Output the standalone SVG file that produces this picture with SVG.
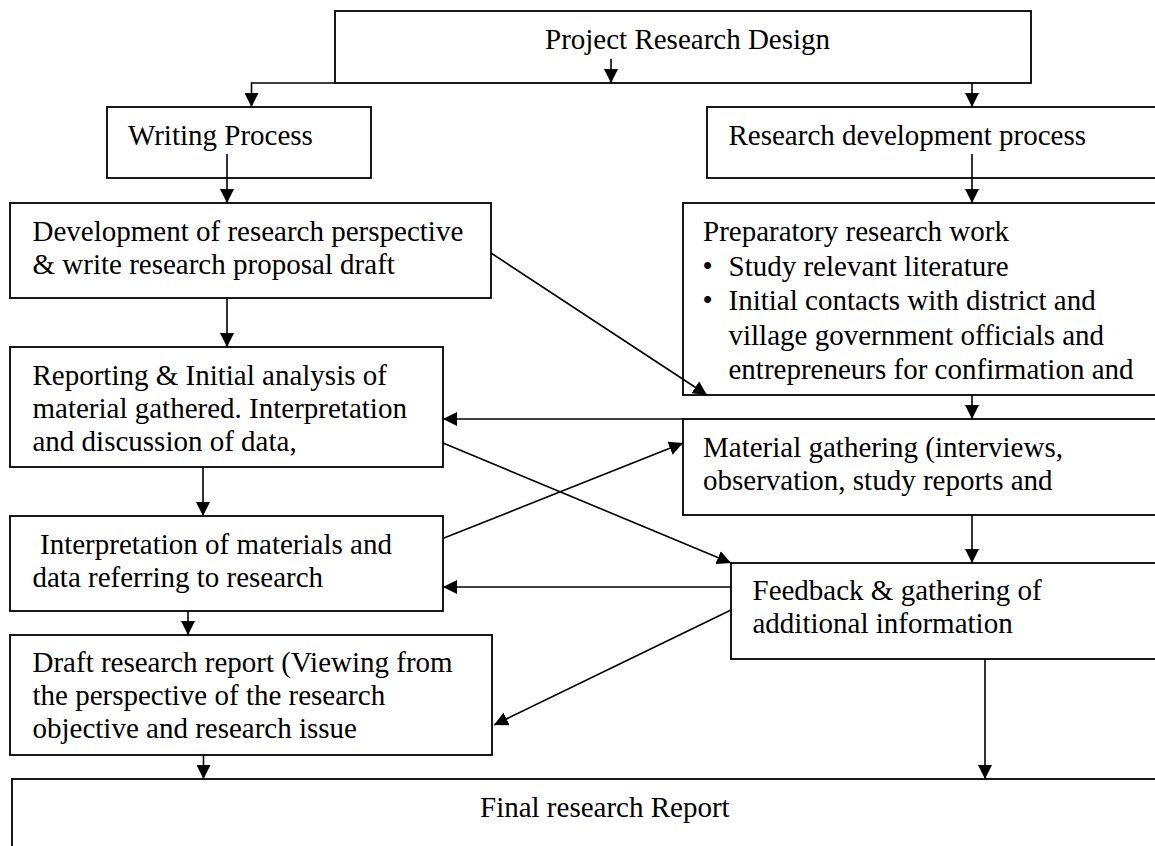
<svg xmlns="http://www.w3.org/2000/svg" width="1155" height="846" viewBox="0 0 1155 846">
<style>
.t{font-family:"Liberation Serif","Times New Roman",serif;font-size:29px;fill:#000}
.box{fill:#fff;stroke:#000;stroke-width:1.8}
.ln{fill:none;stroke:#000;stroke-width:1.6}
.arr{fill:none;stroke:#000;stroke-width:1.6;marker-end:url(#ah)}
</style>
<defs>
<marker id="ah" markerUnits="userSpaceOnUse" viewBox="0 0 14 14" markerWidth="14" markerHeight="14" refX="14" refY="7" orient="auto">
<path d="M0,0 L14,7 L0,14 z" fill="#000"/>
</marker>
</defs>
<rect width="1155" height="846" fill="#fff"/>

<g id="node-project">
<rect class="box" x="335" y="11" width="696" height="72"/>
<text class="t" x="545" y="49">Project Research Design</text>
</g>
<g id="node-writing">
<rect class="box" x="107" y="107" width="264" height="71"/>
<text class="t" x="128" y="145">Writing Process</text>
</g>
<g id="node-resdev">
<rect class="box" x="707" y="107" width="460" height="71"/>
<text class="t" x="728.5" y="145">Research development process</text>
</g>
<g id="node-development">
<rect class="box" x="10" y="203" width="481" height="95"/>
<text class="t" x="32.5" y="241">Development of research perspective</text>
<text class="t" x="32.5" y="274">&amp; write research proposal draft</text>
</g>
<g id="node-preparatory">
<rect class="box" x="683" y="203" width="484" height="192"/>
<text class="t" x="703" y="241">Preparatory research work</text>
<text class="t" x="707.5" y="276" text-anchor="middle">•</text>
<text class="t" x="728.5" y="276">Study relevant literature</text>
<text class="t" x="707.5" y="310" text-anchor="middle">•</text>
<text class="t" x="728.5" y="310">Initial contacts with district and</text>
<text class="t" x="728.5" y="345">village government officials and</text>
<text class="t" x="728.5" y="379">entrepreneurs for confirmation and</text>
</g>
<g id="node-reporting">
<rect class="box" x="10" y="347" width="433" height="120"/>
<text class="t" x="32.5" y="385">Reporting &amp; Initial analysis of</text>
<text class="t" x="32.5" y="418">material gathered. Interpretation</text>
<text class="t" x="32.5" y="451">and discussion of data,</text>
</g>
<g id="node-material">
<rect class="box" x="683" y="419" width="484" height="96"/>
<text class="t" x="703" y="457">Material gathering (interviews,</text>
<text class="t" x="703" y="490">observation, study reports and</text>
</g>
<g id="node-interpretation">
<rect class="box" x="10" y="516" width="433" height="95"/>
<text class="t" x="40" y="554">Interpretation of materials and</text>
<text class="t" x="32.5" y="587">data referring to research</text>
</g>
<g id="node-feedback">
<rect class="box" x="731" y="563" width="436" height="96"/>
<text class="t" x="752.5" y="600">Feedback &amp; gathering of</text>
<text class="t" x="752.5" y="633">additional information</text>
</g>
<g id="node-draft">
<rect class="box" x="10" y="635" width="482" height="120"/>
<text class="t" x="32.5" y="672">Draft research report (Viewing from</text>
<text class="t" x="32.5" y="705">the perspective of the research</text>
<text class="t" x="32.5" y="738">objective and research issue</text>
</g>
<g id="node-final">
<rect class="box" x="12" y="779" width="1160" height="90"/>
<text class="t" x="480" y="817">Final research Report</text>
</g>

<g id="connectors">
<path class="arr" d="M611,59 L611,83"/>
<path class="arr" d="M335,83 L251.5,83 L251.5,107"/>
<path class="arr" d="M972,83 L972,107"/>
<path class="arr" d="M227,154 L227,203"/>
<path class="arr" d="M972,154 L972,203"/>
<path class="arr" d="M227,298 L227,347"/>
<path class="arr" d="M491,253 L707,395"/>
<path class="arr" d="M972,395 L972,419"/>
<path class="arr" d="M683,419 L443,419"/>
<path class="arr" d="M443,443 L731,563"/>
<path class="arr" d="M444,538 L683,443"/>
<path class="arr" d="M203,467 L203,516"/>
<path class="arr" d="M972,515 L972,563"/>
<path class="arr" d="M731,587 L443,587"/>
<path class="arr" d="M731,610 L494,725"/>
<path class="arr" d="M188,611 L188,635"/>
<path class="arr" d="M203.5,755 L203.5,779"/>
<path class="arr" d="M985,659 L985,779"/>
</g>
</svg>
